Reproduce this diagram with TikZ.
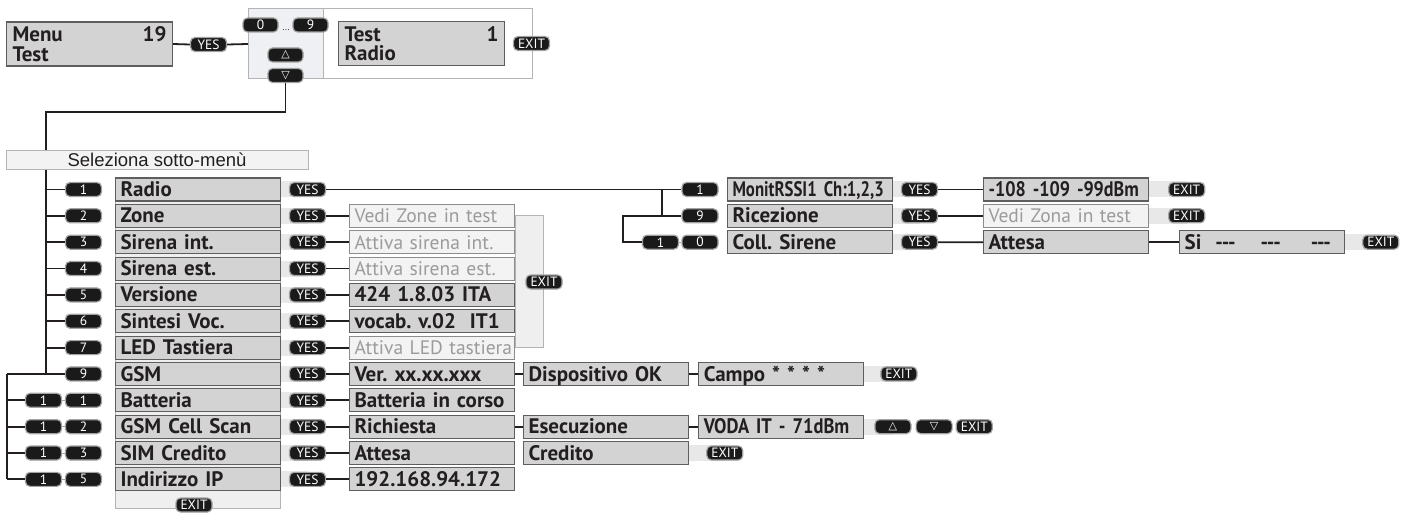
\documentclass[tikz,border=0pt]{standalone}
\usepackage{fontspec}
\setmainfont{PT Sans}
\newfontfamily\selfont{Liberation Sans}
\newfontfamily\symfont{DejaVu Sans}
\usepackage{tikz}
\usetikzlibrary{positioning, backgrounds}
\usepackage{xcolor}
\frenchspacing

\definecolor{ink}{HTML}{231F20}
\definecolor{boxgray}{HTML}{D3D3D3}
\definecolor{boxline}{HTML}{5E5E5E}
\definecolor{pale}{HTML}{F3F3F3}
\definecolor{paletext}{HTML}{9B9B9B}
\definecolor{paleline}{HTML}{8C8C8C}
\definecolor{panel}{HTML}{EFEFEF}
\definecolor{panelline}{HTML}{B4B4B4}
\definecolor{topfill}{HTML}{EEF0F3}
\definecolor{tabfill}{HTML}{E8E8E8}
\definecolor{keyfill}{HTML}{1A1A1A}
\definecolor{keyring}{HTML}{A3A3A3}

\newcommand{\boxfont}{\fontsize{21}{19.5}\selectfont\bfseries}
\newcommand{\palefont}{\fontsize{19.5}{19}\selectfont}
\newcommand{\keyfont}{\fontsize{13.5}{13}\selectfont}
\newcommand{\arrowup}{{\symfont\fontsize{11}{11}\selectfont △}}
\newcommand{\arrowdn}{{\symfont\fontsize{11}{11}\selectfont ▽}}

\begin{document}
\begin{tikzpicture}[x=1pt, y=-1pt,
    wire/.style={line width=1.8pt, draw=ink},
    key/.style={draw=keyring, line width=1.2pt, fill=keyfill, rounded corners=4.5pt,
      minimum width=36pt, minimum height=14pt, inner sep=0pt, text=white, font=\keyfont},
    rowbox/.style={draw=boxline, line width=1.1pt, fill=boxgray, text width=155pt,
      inner xsep=5pt, inner ysep=0pt, minimum height=23pt, text height=18.5pt, text depth=4.4pt,
      anchor=west, align=left, font=\boxfont, text=ink},
    palebox/.style={rowbox, fill=pale, draw=paleline, text=paletext, font=\palefont},
    lcdbox/.style={draw=boxline, line width=1.1pt, fill=boxgray, text width=154pt,
      inner xsep=6pt, minimum height=44pt, anchor=west, align=left, font=\boxfont, text=ink},
    tab/.style={line width=16pt, draw=tabfill}]

  \useasboundingbox (0,0) rectangle (1408,513);

  % Top: menu entry and key panel
  \node[lcdbox] (menu) at (6,44) {Menu\hfill 19\\Test};
  \node[key] (yesTop) at (208.5,44.5) {YES};
  \node[key, minimum width=35pt] (k0top) at (260.5,25) {0};
  \node[key, minimum width=35pt] (k9top) at (310.5,25) {9};
  \node[font=\fontsize{9}{9}\selectfont, text=ink, inner sep=0pt] (dots) at (286,30) {...};
  \node[key, minimum width=35pt] (up) at (285.5,55) {\arrowup};
  \node[key, minimum width=35pt] (dn) at (285.5,75.5) {\arrowdn};
  \node[lcdbox] (test) at (338,43.5) {Test\hfill 1\\Radio};
  \node[key] (exitTop) at (531.5,43.5) {EXIT};

  \coordinate (panelL) at (248,44);
  \draw[wire] (menu.east) -- (yesTop.west);
  \draw[wire] (yesTop.east) -- (panelL);

  % Sub-menu list
  \foreach \i/\num/\lab in {0/1/Radio, 1/2/Zone, 2/3/Sirena int., 3/4/Sirena est.,
      4/5/Versione, 5/6/Sintesi Voc., 6/7/LED Tastiera, 7/9/GSM} {
    \pgfmathsetmacro\yy{189.5+26.35*\i}
    \node[key] (k\i) at (83.5,\yy) {\num};
    \node[rowbox] (r\i) at (115,\yy) {\mbox{\lab}};
    \node[key] (y\i) at (307.5,\yy) {YES};
  }
  \foreach \i/\num/\lab in {8/1/Batteria, 9/2/GSM Cell Scan, 10/3/SIM Credito, 11/5/Indirizzo IP} {
    \pgfmathsetmacro\yy{189.5+26.35*\i}
    \node[key] (ka\i) at (43.5,\yy) {1};
    \node[key] (kb\i) at (83.5,\yy) {\num};
    \draw[line width=0.6pt, keyring] (ka\i.east) -- (kb\i.west);
    \node[rowbox] (r\i) at (115,\yy) {\mbox{\lab}};
    \node[key] (y\i) at (307.5,\yy) {YES};
  }
  \node[key] (exBottom) at (194,505) {EXIT};

  % Results of each entry
  \foreach \i/\txt/\sty in {1/Vedi Zone in test/palebox, 2/Attiva sirena int./palebox,
      3/Attiva sirena est./palebox, 4/424 1.8.03 ITA/rowbox, 5/vocab. v.02\ \ IT1/rowbox,
      6/Attiva LED tastiera/palebox, 7/Ver. xx.xx.xxx/rowbox, 8/Batteria in corso/rowbox,
      9/Richiesta/rowbox, 10/Attesa/rowbox, 11/192.168.94.172/rowbox} {
    \node[\sty] (res\i) at (349,{189.5+26.35*\i}) {\mbox{\txt}};
    \draw[wire] (y\i.east) -- (res\i.west);
  }
  \coordinate (exitcol) at (543,0);
  \node[key] (exGroup) at (544,282) {EXIT};

  % GSM, cell scan and credit chains
  \node[rowbox, right=8pt of res7] (dev) {Dispositivo OK};
  \node[rowbox, right=9pt of dev] (campo) {Campo * * * *};
  \node[key, right=16pt of campo] (ex7) {EXIT};
  \draw[wire] (res7.east) -- (dev.west);
  \draw[wire] (dev.east) -- (campo.west);

  \node[rowbox, right=8pt of res9] (esec) {Esecuzione};
  \node[rowbox, font=\boxfont\addfontfeature{FakeStretch=0.88}, right=9pt of esec] (voda) {\mbox{VODA IT - 71dBm}};
  \node[key, right=10pt of voda] (up9) {\arrowup};
  \node[key, right=4pt of up9] (dn9) {\arrowdn};
  \node[key, right=3pt of dn9] (ex9) {EXIT};
  \draw[wire] (res9.east) -- (esec.west);
  \draw[wire] (esec.east) -- (voda.west);

  \node[rowbox, right=8pt of res10] (cred) {Credito};
  \node[key, right=17pt of cred] (ex10) {EXIT};

  % Radio sub-tree
  \node[key] (sk0) at (700,189.5) {1};
  \node[key] (sk1) at (700,215.85) {9};
  \node[key] (ska2) at (660.5,242.2) {1};
  \node[key] (sk2) at (700,242.2) {0};
  \draw[line width=0.6pt, keyring] (ska2.east) -- (sk2.west);
  \node[rowbox, font=\boxfont\addfontfeature{FakeStretch=0.8}] (s0) at (727,189.5) {\mbox{MonitRSSI1 Ch:1,2,3}};
  \node[rowbox] (s1) at (727,215.85) {Ricezione};
  \node[rowbox] (s2) at (727,242.2) {Coll. Sirene};
  \foreach \i in {0,1,2} \node[key] (sy\i) at (919.5,{189.5+26.35*\i}) {YES};
  \node[rowbox, font=\boxfont\addfontfeature{FakeStretch=0.86}] (sr0) at (983,189.5) {\mbox{-108 -109 -99dBm}};
  \node[palebox] (sr1) at (983,215.85) {Vedi Zona in test};
  \node[rowbox] (sr2) at (983,242.2) {Attesa};
  \node[rowbox, right=30pt of sr2] (si) {\mbox{Si\hspace{14pt}-{}-{}-\hspace{25pt}-{}-{}-\hspace{30pt}-{}-{}-}};
  \node[key, right=19pt of sr0] (se0) {EXIT};
  \node[key, right=19pt of sr1] (se1) {EXIT};
  \node[key, right=17pt of si] (se2) {EXIT};
  \foreach \i in {0,1,2} \draw[wire] (sy\i.east) -- (sr\i.west);
  \draw[wire] (sr2.east) -- (si.west);

  \coordinate (fork) at (662,0);
  \coordinate (fork2) at (623,0);
  \draw[wire] (y0.east) -- (sk0.west);
  \draw[wire] (fork |- sk0.west) -- (fork |- sk1.west) -- (sk1.west);
  \draw[wire] (fork |- sk1.west) -- (fork2 |- sk1.west) -- (fork2 |- ska2.west) -- (ska2.west);

  % Trunks on the left
  \coordinate (trunkTop) at (46,112);
  \coordinate (trunkLow) at (7,0);
  \draw[wire] (dn.south) |- (trunkTop) -- (trunkTop |- k7.west);
  \foreach \i in {0,...,6} \draw[wire] (trunkTop |- k\i.west) -- (k\i.west);
  \draw[wire] (trunkLow |- k7.west) -- (k7.west);
  \draw[wire] (trunkLow |- k7.west) -- (trunkLow |- ka11.west);
  \foreach \i in {8,...,11} \draw[wire] (trunkLow |- ka\i.west) -- (ka\i.west);

  \node[draw=panelline, fill=pale, minimum width=302pt, minimum height=19pt, inner sep=0pt,
    font=\selfont\fontsize{18.5}{18}\selectfont, text=ink] (sel) at (157,159.5) {Seleziona sotto-menù};

  % Light panels and tabs behind the boxes
  \begin{pgfonlayer}{background}
    \draw[panelline, fill=white, line width=0.8pt] (248,8) rectangle (532,78);
    \draw[panelline, fill=topfill, line width=0.8pt] (248,8) rectangle (323,78);
    \draw[panelline, fill=panel, line width=0.8pt] (115,177) rectangle (280,508);
    \draw[panelline, fill=panel, line width=0.8pt] (res1.east) rectangle (exitcol |- res6.east);
    \foreach \i in {0,...,11} \draw[tab] (r\i.east) -- (y\i.center);
    \foreach \i in {0,1,2} \draw[tab] (s\i.east) -- (sy\i.center);
    \draw[tab] (sr0.east) -- (se0.center);
    \draw[tab] (sr1.east) -- (se1.center);
    \draw[tab] (si.east) -- (se2.center);
    \draw[tab] (campo.east) -- (ex7.center);
    \draw[tab] (voda.east) -- (up9.center);
    \draw[tab] (cred.east) -- (ex10.center);
  \end{pgfonlayer}

\end{tikzpicture}
\end{document}
